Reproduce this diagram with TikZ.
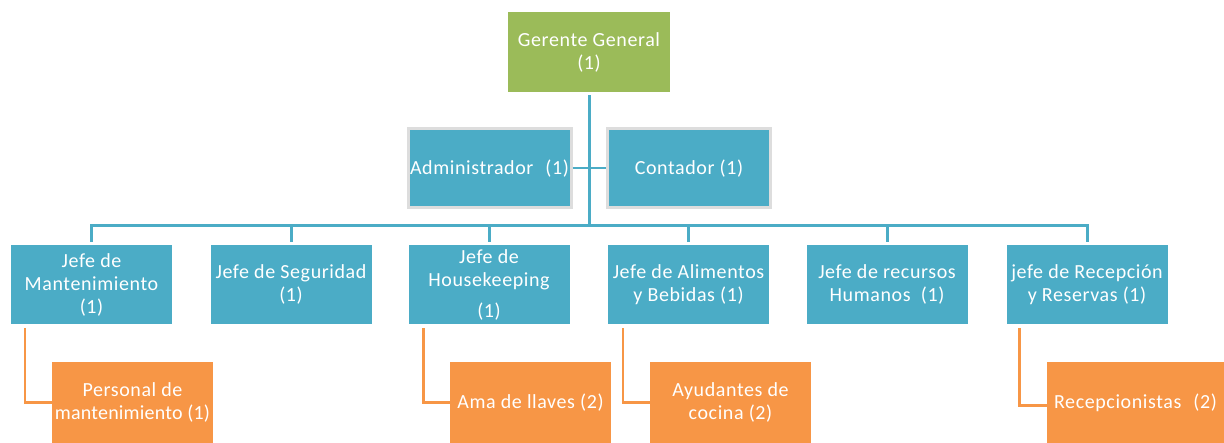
\documentclass[tikz,border=0pt]{standalone}
\usepackage{fontspec}
\setmainfont[LetterSpace=3]{Carlito}
\definecolor{ggreen}{HTML}{9BBB59}
\definecolor{teal}{HTML}{4BACC6}
\definecolor{orng}{HTML}{F79646}
\definecolor{bordergray}{HTML}{DDDDDD}
\newcommand{\fitline}[1]{\makebox[0pt][c]{#1}}
\begin{document}
\begin{tikzpicture}[x=1pt,y=-1pt,
  box/.style={inner sep=0pt, align=center, text=white,
    font=\fontsize{20}{23}\selectfont},
  green/.style={box, fill=ggreen, minimum width=162pt, minimum height=80pt},
  assist/.style={box, fill=teal, draw=bordergray, line width=3pt, minimum width=163pt, minimum height=79pt},
  head/.style={box, fill=teal, minimum width=161pt, minimum height=79pt},
  staff/.style={box, fill=orng, minimum width=161pt, minimum height=81pt},
  tline/.style={draw=teal, line width=3pt},
  aline/.style={draw=teal, line width=2pt},
  oline/.style={draw=orng, line width=2.5pt}]
\useasboundingbox (0,0) rectangle (1224,443);

\node[green] (gg) at (589,52) {Gerente General\\(1)};
\node[assist] (adm) at (489.5,168.5) {\fitline{Administrador\hspace{12pt}(1)}};
\node[assist] (con) at (689,168.5) {Contador (1)};

\node[head] (m) at (91.5,284.5) {Jefe de\\Mantenimiento\\(1)};
\node[head] (s) at (291,284.5) {Jefe de Seguridad\\(1)};
\node[head] (h) at (489,284.5) {Jefe de\\Housekeeping\\[8pt](1)};
\node[head] (a) at (688.5,284.5) {Jefe de Alimentos\\y Bebidas (1)};
\node[head] (rh) at (887,284.5) {Jefe de recursos\\Humanos\ \ (1)};
\node[head] (r) at (1087,284.5) {jefe de Recepción\\y Reservas (1)};

\node[staff] (pm) at (132.5,402.5) {Personal de\\\fitline{\addfontfeatures{LetterSpace=1}mantenimiento\ (1)}};
\node[staff] (al) at (530.5,402.5) {Ama de llaves (2)};
\node[staff] (ac) at (730.5,402.5) {Ayudantes de\\cocina (2)};
\node[staff, minimum width=177pt] (rc) at (1135.5,402.5) {Recepcionistas\hspace{12pt}(2)};

\coordinate (bus) at (589,226);

% assistants link
\draw[aline] (adm.east) -- (con.west);
% main trunk
\draw[tline] ([yshift=-3pt]gg.south) -- (bus);
\draw[tline] ([yshift=3pt]m.north) |- (bus) -| ([yshift=3pt]r.north);
\foreach \n in {s,h,a,rh}
  \draw[tline] ([yshift=3pt]\n.north) -- (\n.north |- bus);

% staff links
\draw[oline] ([xshift=14pt,yshift=-4pt]m.south west) |- (pm.west);
\draw[oline] ([xshift=15pt,yshift=-4pt]h.south west) |- (al.west);
\draw[oline] ([xshift=15pt,yshift=-4pt]a.south west) |- (ac.west);
\draw[oline] ([xshift=13pt,yshift=-4pt]r.south west) |- ([yshift=-3pt]rc.west);
\end{tikzpicture}
\end{document}
